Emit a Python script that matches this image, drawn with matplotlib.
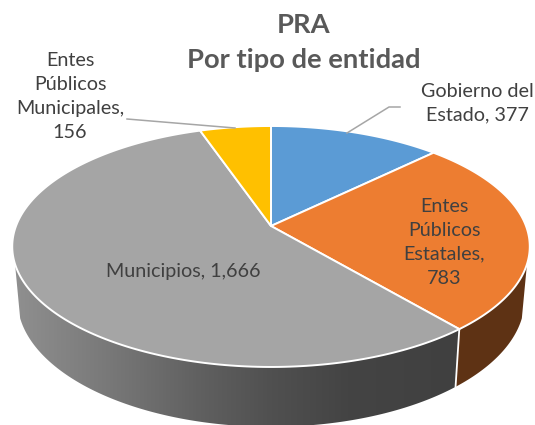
import numpy as np
import matplotlib
matplotlib.use("Agg")
import matplotlib.pyplot as plt
from matplotlib.patches import Polygon
from matplotlib.colors import LinearSegmentedColormap

plt.rcParams['font.family'] = ['Lato', 'DejaVu Sans']

categories = ["Gobierno del\nEstado, 377", "Entes\nPúblicos\nEstatales,\n783",
              "Municipios, 1,666", "Entes\nPúblicos\nMunicipales,\n156"]
values = [377, 783, 1666, 156]
colors = ["#5B9BD5", "#ED7D31", "#A5A5A5", "#FFC000"]
wall_orange = "#5E3214"
title = "PRA\nPor tipo de entidad"
text_col = "#404040"
title_col = "#595959"

CX, CY = 271.0, 226.0
K, A, B = 0.17, 117.0, 255.0
S, D = 0.98, 52.0


def project(theta_deg, r=1.0, lower=False):
    """theta clockwise from top of the disc, perspective projection to pixels"""
    t = np.radians(theta_deg)
    u, v = r * np.sin(t), r * np.cos(t)
    w = 1 + K * v
    x, y = B * u / w, -A * v / w
    if lower:
        return CX + S * x, CY + S * y + D / w
    return CX + x, CY + y


fig = plt.figure(figsize=(5.35, 4.25), dpi=100)
ax = fig.add_axes([0, 0, 1, 1])
ax.set_xlim(0, 535)
ax.set_ylim(425, 0)
ax.axis("off")

shares = np.cumsum([0] + values) / sum(values) * 360.0


def wall_poly(a0, a1):
    th = np.linspace(a0, a1, 200)
    xt, yt = project(th)
    xb, yb = project(th, lower=True)
    return np.column_stack([np.r_[xt, xb[::-1]], np.r_[yt, yb[::-1]]])


# Side wall: gray slice with a horizontal gradient
gray_cmap = LinearSegmentedColormap.from_list(
    "wall", [(0, "#909090"), (0.2, "#7a7a7a"), (0.42, "#606060"),
             (0.58, "#505050"), (0.75, "#444444"), (1, "#404040")])
gray_wall = Polygon(wall_poly(shares[2], 252), closed=True, fc="none", ec="none")
ax.add_patch(gray_wall)
im = ax.imshow(np.linspace(0, 1, 256)[None, :], cmap=gray_cmap, aspect="auto",
               extent=(12, 460, 425, 200), zorder=1)
im.set_clip_path(gray_wall)
ax.set_xlim(0, 535)
ax.set_ylim(425, 0)

# Side wall: orange slice
ax.add_patch(Polygon(wall_poly(108, shares[2]), closed=True, fc=wall_orange,
                     ec="none", zorder=1))
# White seam between wall segments
xs0, ys0 = project(shares[2])
xs1, ys1 = project(shares[2], lower=True)
ax.plot([xs0, xs1], [ys0, ys1], color="white", lw=1.3, zorder=2)

# Top face
for i, c in enumerate(colors):
    th = np.linspace(shares[i], shares[i + 1], 200)
    x, y = project(th)
    pts = np.column_stack([np.r_[CX, x], np.r_[CY, y]])
    ax.add_patch(Polygon(pts, closed=True, fc=c, ec="white", lw=1.4,
                         joinstyle="round", zorder=3))

# Leader lines
ax.plot([127, 235], [119, 128], color="#A6A6A6", lw=1.1, zorder=4)
ax.plot([400, 389, 347], [107, 107, 133], color="#A6A6A6", lw=1.1, zorder=4)

# Labels
label_pos = [(477, 103), (444, 242), (183, 272), (70, 96)]
for s, (x, y) in zip(categories, label_pos):
    ax.text(x, y, s, ha="center", va="center", fontsize=14.2, color=text_col,
            linespacing=1.5, zorder=5)

ax.text(304, 42, title, ha="center", va="center", fontsize=19.7, color=title_col,
        fontweight="bold", linespacing=1.55, zorder=5)

fig.savefig("out.png", dpi=100, facecolor="white")
